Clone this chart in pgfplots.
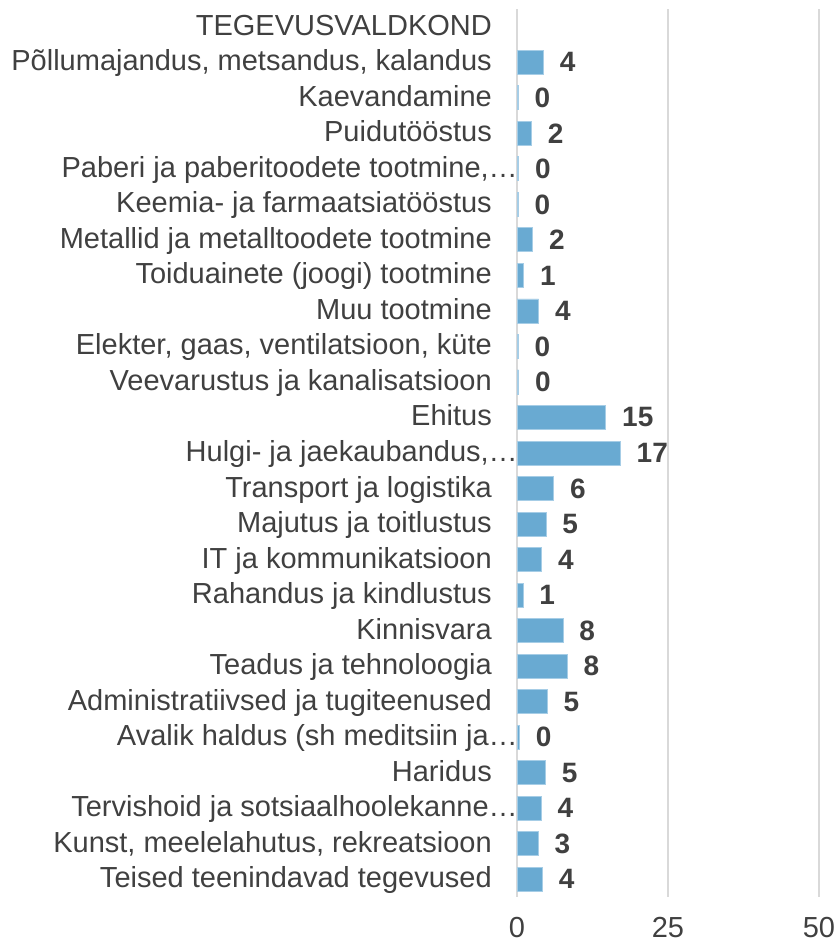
\documentclass[border=0pt]{standalone}
\usepackage{pgfplots}
\pgfplotsset{compat=1.18}
\usepackage{pgfplotstable}
\usepackage{fontspec}
\setmainfont{Liberation Sans}
\definecolor{barblue}{HTML}{69AAD2}
\definecolor{baredge}{HTML}{A6CDE6}
\definecolor{txt}{HTML}{404040}
\definecolor{gridc}{HTML}{D9D9D9}
\pgfplotstableread{
y x lab
1 4.4 4
2 0.2 0
3 2.4 2
4 0.3 0
5 0.2 0
6 2.6 2
7 1.1 1
8 3.6 4
9 0.2 0
10 0.3 0
11 14.7 15
12 17.1 17
13 6.1 6
14 4.8 5
15 4.1 4
16 1.0 1
17 7.6 8
18 8.3 8
19 5.0 5
20 0.4 0
21 4.7 5
22 4.0 4
23 3.5 3
24 4.2 4
}\data
\begin{document}
\begin{tikzpicture}
\path[use as bounding box] (0bp,0bp) rectangle (838bp,944bp);
\begin{axis}[
  at={(517bp,47bp)}, anchor=south west,
  scale only axis, width=302bp, height=888bp,
  xmin=0, xmax=50, ymin=-0.5, ymax=24.5,
  y dir=reverse,
  xtick={0,25,50},
  ytick={0,...,24},
  yticklabels={
    TEGEVUSVALDKOND,
    {Põllumajandus, metsandus, kalandus},
    Kaevandamine,
    Puidutööstus,
    {Paberi ja paberitoodete tootmine,…\kern-26bp},
    Keemia- ja farmaatsiatööstus,
    Metallid ja metalltoodete tootmine,
    Toiduainete (joogi) tootmine,
    Muu tootmine,
    {Elekter, gaas, ventilatsioon, küte},
    Veevarustus ja kanalisatsioon,
    Ehitus,
    {Hulgi- ja jaekaubandus,…\kern-26bp},
    Transport ja logistika,
    Majutus ja toitlustus,
    IT ja kommunikatsioon,
    Rahandus ja kindlustus,
    Kinnisvara,
    Teadus ja tehnoloogia,
    Administratiivsed ja tugiteenused,
    {Avalik haldus (sh meditsiin ja…\kern-26bp},
    Haridus,
    {Tervishoid ja sotsiaalhoolekanne…\kern-26bp},
    {Kunst, meelelahutus, rekreatsioon},
    Teised teenindavad tegevused},
  xmajorgrids,
  grid style={draw=gridc, line width=1.6bp},
  axis line style={draw=none},
  major tick length=0pt,
  tick style={draw=none},
  /pgf/number format/assume math mode=true,
  yticklabel style={font=\fontsize{29bp}{31bp}\selectfont, text=txt, anchor=east,
    inner sep=0pt, xshift=-25bp, text height=23bp, text depth=6bp},
  xticklabel style={font=\fontsize{29bp}{31bp}\selectfont, text=txt, anchor=north,
    inner sep=0pt, yshift=-20.5bp},
  clip=false,
]
\addplot[xbar, bar width=24bp, fill=barblue, draw=baredge, line width=0.8bp,
  nodes near coords, point meta=explicit symbolic,
  nodes near coords style={anchor=west, inner sep=0pt, xshift=16bp,
    font=\bfseries\fontsize{28bp}{30bp}\selectfont, text=txt}]
  table[x=x, y=y, meta=lab] {\data};
\end{axis}
\end{tikzpicture}
\end{document}
